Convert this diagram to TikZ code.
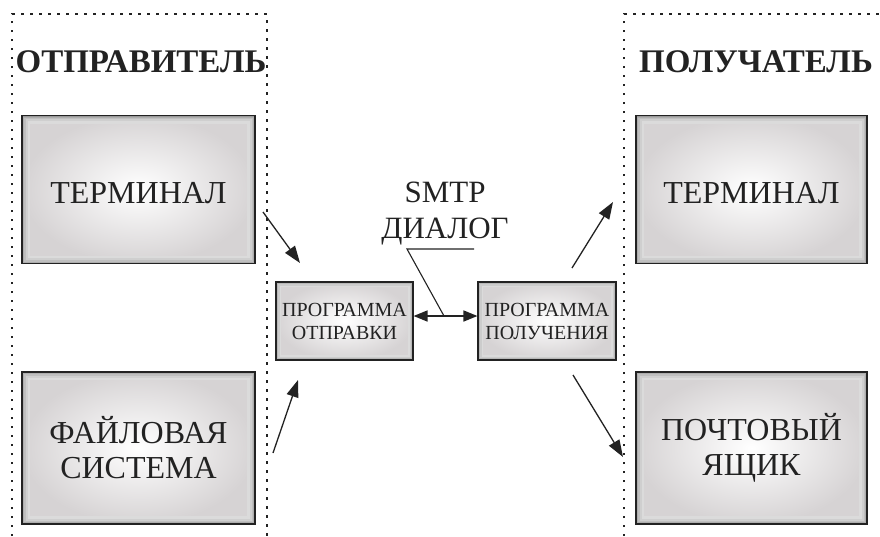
\documentclass[tikz,border=0pt]{standalone}
\usepackage{fontspec}
\setmainfont{Liberation Serif}
\usetikzlibrary{arrows.meta,calc}
\definecolor{ink}{RGB}{34,34,34}
\definecolor{boxedge}{RGB}{214,211,212}
\begin{document}
\begin{tikzpicture}[x=1pt,y=-1pt,
  bevel/.style={path picture={
    \foreach \w/\p in {#1}{
      \draw[line width=\w pt, draw=black!\p]
        (path picture bounding box.south west) rectangle (path picture bounding box.north east);
    }}},
  bigbox/.style={draw=ink, line width=1.1pt, inner color=white, outer color=boxedge,
    bevel={16/14,11/19,7/25,4/32,2/40},
    minimum width=233pt, minimum height=148pt, text=ink, align=center,
    font=\fontsize{32}{35}\selectfont},
  smallbox/.style={draw=ink, line width=1.1pt, inner color=white, outer color=boxedge,
    bevel={10/14,7/20,4/28,2/38},
    minimum width=137pt, minimum height=78pt, text=ink, align=center, inner sep=1pt,
    font=\fontsize{20}{23}\selectfont},
  titletext/.style={text=ink, font=\fontsize{33}{36}\selectfont\bfseries},
  labeltext/.style={text=ink, align=center, font=\fontsize{31}{36}\selectfont},
  frameline/.style={draw=ink, line width=2.3pt, dash pattern=on 2.5pt off 6.5pt},
  arr/.style={draw=ink, line width=1.3pt, -{Triangle[length=17pt,width=12pt]}},
  dblarr/.style={draw=ink, line width=1.6pt, {Triangle[length=14pt,width=11pt]}-{Triangle[length=14pt,width=11pt]}},
  leader/.style={draw=ink, line width=1.1pt}
]
\useasboundingbox (0,0) rectangle (880,536);

% dotted frames
\coordinate (fl1) at (12,536);
\coordinate (fl2) at (12,14);
\coordinate (fl3) at (267,14);
\coordinate (fl4) at (267,536);
\draw[frameline] (fl1) -- (fl2) -- (fl3) -- (fl4);
\coordinate (fr1) at (624,536);
\coordinate (fr2) at (624,14);
\coordinate (fr3) at (880,14);
\draw[frameline] (fr1) -- (fr2) -- (fr3);

% titles
\node[titletext] (sender) at (141,62) {ОТПРАВИТЕЛЬ};
\node[titletext] (receiver) at (756,62) {ПОЛУЧАТЕЛЬ};

% big boxes
\node[bigbox, text height=29pt] (sterm) at (138.5,189.5) {ТЕРМИНАЛ};
\node[bigbox, minimum height=152pt] (fs) at (138.5,448) {ФАЙЛОВАЯ\\СИСТЕМА};
\node[bigbox, minimum width=231pt, text height=29pt] (rterm) at (751.5,189.5) {ТЕРМИНАЛ};
\node[bigbox, minimum width=231pt, minimum height=152pt] (mbox) at (751.5,448) {ПОЧТОВЫЙ\\ЯЩИК};

% small boxes
\node[smallbox] (ps) at (344.5,321) {ПРОГРАММА\\ОТПРАВКИ};
\node[smallbox, minimum width=138pt] (pr) at (547,321) {ПРОГРАММА\\ПОЛУЧЕНИЯ};

% SMTP label
\node[labeltext] (smtp) at (445,213.5) {SMTP\\ДИАЛОГ};

% arrows
\coordinate (a1s) at (263,212);
\coordinate (a1e) at (300,263);
\coordinate (a2s) at (273,453);
\coordinate (a2e) at (298,380);
\coordinate (a3s) at (572,268);
\coordinate (a3e) at (613,202);
\coordinate (a4s) at (573,375);
\coordinate (a4e) at (623,457);
\draw[arr] (a1s) -- (a1e);
\draw[arr] (a2s) -- (a2e);
\draw[arr] (a3s) -- (a3e);
\draw[arr] (a4s) -- (a4e);

% SMTP dialog double arrow
\coordinate (dl) at ($(ps.east)+(0,-5)$);
\coordinate (dr) at ($(pr.west)+(0,-5)$);
\draw[dblarr] (dl) -- (dr);

% leader line
\coordinate (lk) at (407,249);
\coordinate (le) at (474,249);
\coordinate (lm) at (444,316);
\draw[leader] (le) -- (lk) -- (lm);
\end{tikzpicture}
\end{document}
